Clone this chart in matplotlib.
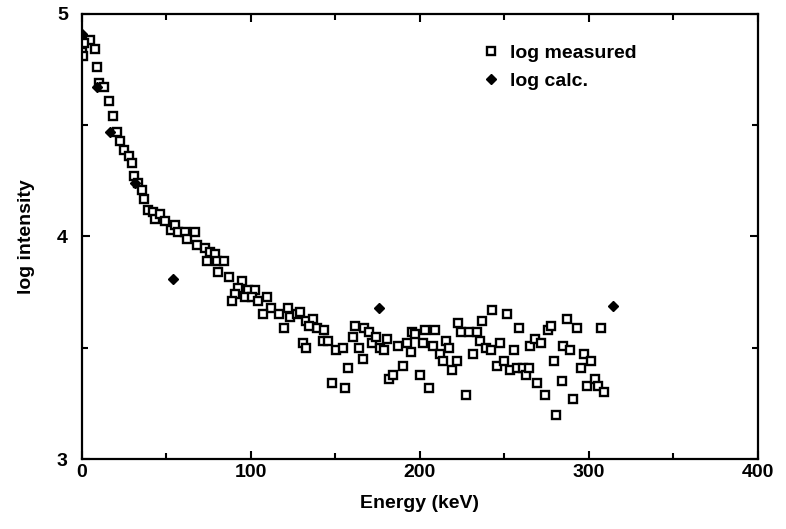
import matplotlib

matplotlib.use("Agg")

import matplotlib.pyplot as plt
from matplotlib import font_manager
from matplotlib.ticker import MultipleLocator

# measured spectrum (squares)
measured_energy = [
    0.0, 0.6, 4.7, 1.2, 7.7, 8.9, 10.1, 13.0, 16.0, 18.3, 20.7, 22.5, 24.9, 27.8,
    29.6, 30.8, 33.1, 35.5, 36.7, 39.1, 42.0, 43.2, 46.2, 49.1, 52.7, 55.0, 56.8,
    60.9, 62.1, 66.9, 68.0, 72.8, 75.7, 78.7, 74.0, 79.9, 84.0, 80.5, 87.0, 94.7,
    92.3, 90.5, 88.8, 98.2, 102.4, 96.4, 100.6, 104.1, 109.5, 111.8, 107.1, 116.6,
    119.5, 121.9, 123.1, 127.2, 132.5, 136.7, 139.1, 130.8, 132.5, 129.0, 134.3,
    143.2, 142.6, 145.6, 150.3, 154.4, 147.9, 155.6, 157.4, 161.5, 160.4, 163.9,
    166.3, 166.9, 169.8, 171.6, 174.0, 176.3, 178.7, 180.5, 181.7, 184.0, 187.0,
    189.9, 192.3, 194.7, 195.3, 197.0, 200.0, 201.8, 203.0, 205.3, 207.7, 208.9,
    211.8, 213.6, 215.4, 217.2, 218.9, 221.9, 222.5, 224.3, 227.2, 229.0, 231.4,
    233.7, 235.5, 236.7, 239.1, 242.0, 242.6, 245.6, 247.3, 249.7, 251.5, 253.3,
    255.6, 257.4, 258.6, 261.0, 262.7, 264.5, 265.1, 268.0, 269.2, 271.6, 274.0,
    275.7, 277.5, 279.3, 280.5, 284.0, 284.6, 287.0, 288.8, 290.5, 292.9, 295.3,
    297.0, 298.8, 301.2, 303.6, 305.3, 307.1, 308.9,
]
measured_log = [
    4.83, 4.81, 4.88, 4.87, 4.84, 4.76, 4.69, 4.67, 4.61, 4.54, 4.47, 4.43, 4.39, 4.36,
    4.33, 4.27, 4.24, 4.21, 4.17, 4.12, 4.11, 4.08, 4.10, 4.07, 4.03, 4.05, 4.02,
    4.02, 3.99, 4.02, 3.96, 3.95, 3.93, 3.92, 3.89, 3.89, 3.89, 3.84, 3.82, 3.80,
    3.77, 3.74, 3.71, 3.76, 3.76, 3.73, 3.73, 3.71, 3.73, 3.68, 3.65, 3.65,
    3.59, 3.68, 3.64, 3.65, 3.62, 3.63, 3.59, 3.52, 3.50, 3.66, 3.60,
    3.58, 3.53, 3.53, 3.49, 3.50, 3.34, 3.32, 3.41, 3.60, 3.55, 3.50,
    3.45, 3.59, 3.57, 3.52, 3.55, 3.50, 3.49, 3.54, 3.36, 3.38, 3.51,
    3.42, 3.52, 3.48, 3.57, 3.56, 3.38, 3.52, 3.58, 3.32, 3.51, 3.58,
    3.47, 3.44, 3.53, 3.50, 3.40, 3.44, 3.61, 3.57, 3.29, 3.57, 3.47,
    3.57, 3.53, 3.62, 3.50, 3.49, 3.67, 3.42, 3.52, 3.44, 3.65, 3.40,
    3.49, 3.41, 3.59, 3.41, 3.38, 3.41, 3.51, 3.54, 3.34, 3.52, 3.29,
    3.58, 3.60, 3.44, 3.20, 3.35, 3.51, 3.63, 3.49, 3.27, 3.59, 3.41,
    3.47, 3.33, 3.44, 3.36, 3.33, 3.59, 3.30,
]

# calculated values (filled diamonds)
calc_energy = [0.0, 8.9, 16.6, 31.4, 53.8, 175.7, 314.2]
calc_log = [4.91, 4.67, 4.47, 4.24, 3.81, 3.68, 3.69]

names = {f.name for f in font_manager.fontManager.ttflist}
family = "Liberation Sans Narrow" if "Liberation Sans Narrow" in names else "Liberation Sans"
plt.rcParams["font.family"] = family
plt.rcParams["font.weight"] = "bold"

fig = plt.figure(figsize=(7.86, 5.29), dpi=100)
ax = fig.add_axes([0.104, 0.132, 0.86, 0.842])

ax.plot(measured_energy, measured_log, linestyle="none", marker="s", ms=6,
        mfc="white", mec="black", mew=1.7, label="log measured", zorder=2)
ax.plot(calc_energy, calc_log, linestyle="none", marker="D", ms=5.5,
        mfc="black", mec="black", label="log calc.", zorder=3)

ax.set_xlim(0, 400)
ax.set_ylim(3, 5)
ax.xaxis.set_major_locator(MultipleLocator(100))
ax.xaxis.set_minor_locator(MultipleLocator(50))
ax.yaxis.set_major_locator(MultipleLocator(1))
ax.yaxis.set_minor_locator(MultipleLocator(0.5))
ax.tick_params(which="both", direction="in", top=True, right=True, width=1.5,
               labelsize=14)
ax.tick_params(axis="y", pad=10)
ax.tick_params(which="major", length=6)
ax.tick_params(which="minor", length=4)
for s in ax.spines.values():
    s.set_linewidth(1.6)

ax.set_xlabel("Energy (keV)", fontsize=14, fontweight="bold", labelpad=10)
ax.set_ylabel("log intensity", fontsize=14, fontweight="bold", labelpad=16)

leg = ax.legend(loc="upper left", bbox_to_anchor=(0.565, 0.97), frameon=False,
                fontsize=14, handletextpad=0.5, labelspacing=0.5,
                handlelength=1.0, markerscale=0.85)

fig.savefig("out.png", dpi=100)
plt.close(fig)
